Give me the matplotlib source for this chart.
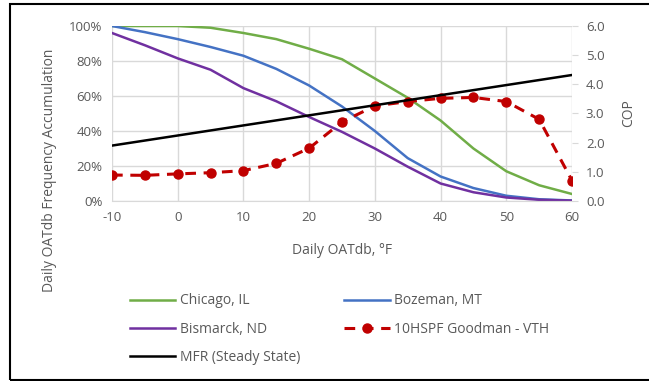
import matplotlib
matplotlib.use("Agg")
import matplotlib.pyplot as plt
from matplotlib.patches import Rectangle

plt.rcParams['font.family'] = ['Open Sans', 'DejaVu Sans']
plt.rcParams['axes.unicode_minus'] = False

# outdoor temperature bins, degF
temps = [-10, -5, 0, 5, 10, 15, 20, 25, 30, 35, 40, 45, 50, 55, 60]

# cumulative frequency (%)
chicago = [100, 100, 100, 99, 96, 92.5, 87, 81, 70, 59, 46, 30, 17, 9, 4]
bozeman = [100, 96.5, 92.5, 88, 83, 75.5, 66, 54, 40, 24.5, 14, 7.4, 3, 1, 0.3]
bismarck = [96, 89, 81.5, 75, 64.5, 57, 48, 39.5, 30, 19.6, 10, 5, 2, 0.7, 0.2]

# heat pump COP
cop = [0.89, 0.88, 0.93, 0.97, 1.04, 1.29, 1.81, 2.71, 3.26, 3.41, 3.52, 3.55, 3.41, 2.80, 0.70]
mfr_t = [-10, 60]
mfr_cop = [1.9, 4.32]

grey = "#595959"
fig = plt.figure(figsize=(6.49, 3.81), dpi=100)
ax = fig.add_axes([112 / 649, 1 - 201 / 381, 460 / 649, 175 / 381])
ax2 = ax.twinx()

l_chi, = ax.plot(temps, chicago, color="#70ad47", lw=1.8, label="Chicago, IL")
l_boz, = ax.plot(temps, bozeman, color="#4472c4", lw=1.8, label="Bozeman, MT")
l_bis, = ax.plot(temps, bismarck, color="#7030a0", lw=1.8, label="Bismarck, ND")
l_cop, = ax2.plot(temps, cop, color="#c00000", lw=2.2, ls=(0, (3.5, 2.5)), marker="o",
                  ms=6.5, label="10HSPF Goodman - VTH")
l_mfr, = ax2.plot(mfr_t, mfr_cop, color="black", lw=1.8, label="MFR (Steady State)")

ax.set_xlim(-10, 60)
ax.set_ylim(0, 100)
ax2.set_ylim(0, 6)
ax.set_xticks(range(-10, 61, 10))
ax.set_yticks(range(0, 101, 20))
ax.set_yticklabels([f"{v}%" for v in range(0, 101, 20)])
ax2.set_yticks([0, 1, 2, 3, 4, 5, 6])
ax2.set_yticklabels([f"{v:.1f}" for v in range(7)])

ax.grid(True, color="#d9d9d9", lw=1)
ax.set_axisbelow(True)
for a in (ax, ax2):
    for s in a.spines.values():
        s.set_visible(False)
ax.spines['bottom'].set_visible(True)
ax.spines['bottom'].set_color("#d9d9d9")
ax.tick_params(axis='both', length=0, colors=grey, labelsize=9.5, pad=7)
ax2.tick_params(axis='y', length=4, color="#d9d9d9", labelcolor=grey, labelsize=9.5, pad=6)

ax.set_xlabel("Daily OATdb, °F", color=grey, fontsize=10, labelpad=14)
ax2.set_ylabel("COP", color=grey, fontsize=10, labelpad=12)
fig.text(50 / 649, 1 - 170 / 381, "Daily OATdb Frequency Accumulation", rotation=90,
         color=grey, fontsize=10, ha="center", va="center")

handles = [l_chi, l_bis, l_mfr, l_boz, l_cop]
leg = fig.legend(handles, [h.get_label() for h in handles], ncol=2,
                 loc="upper left", bbox_to_anchor=(117 / 649, 1 - 281 / 381),
                 frameon=False, fontsize=10, handlelength=3.3, handletextpad=0.3,
                 columnspacing=3.2, labelspacing=0.95, labelcolor=grey)

fig.patches.append(Rectangle((10 / 649, 1 / 381), 1.0, 376 / 381, transform=fig.transFigure,
                             fill=False, edgecolor="black", lw=1.5))

fig.savefig("out.png", dpi=100)
